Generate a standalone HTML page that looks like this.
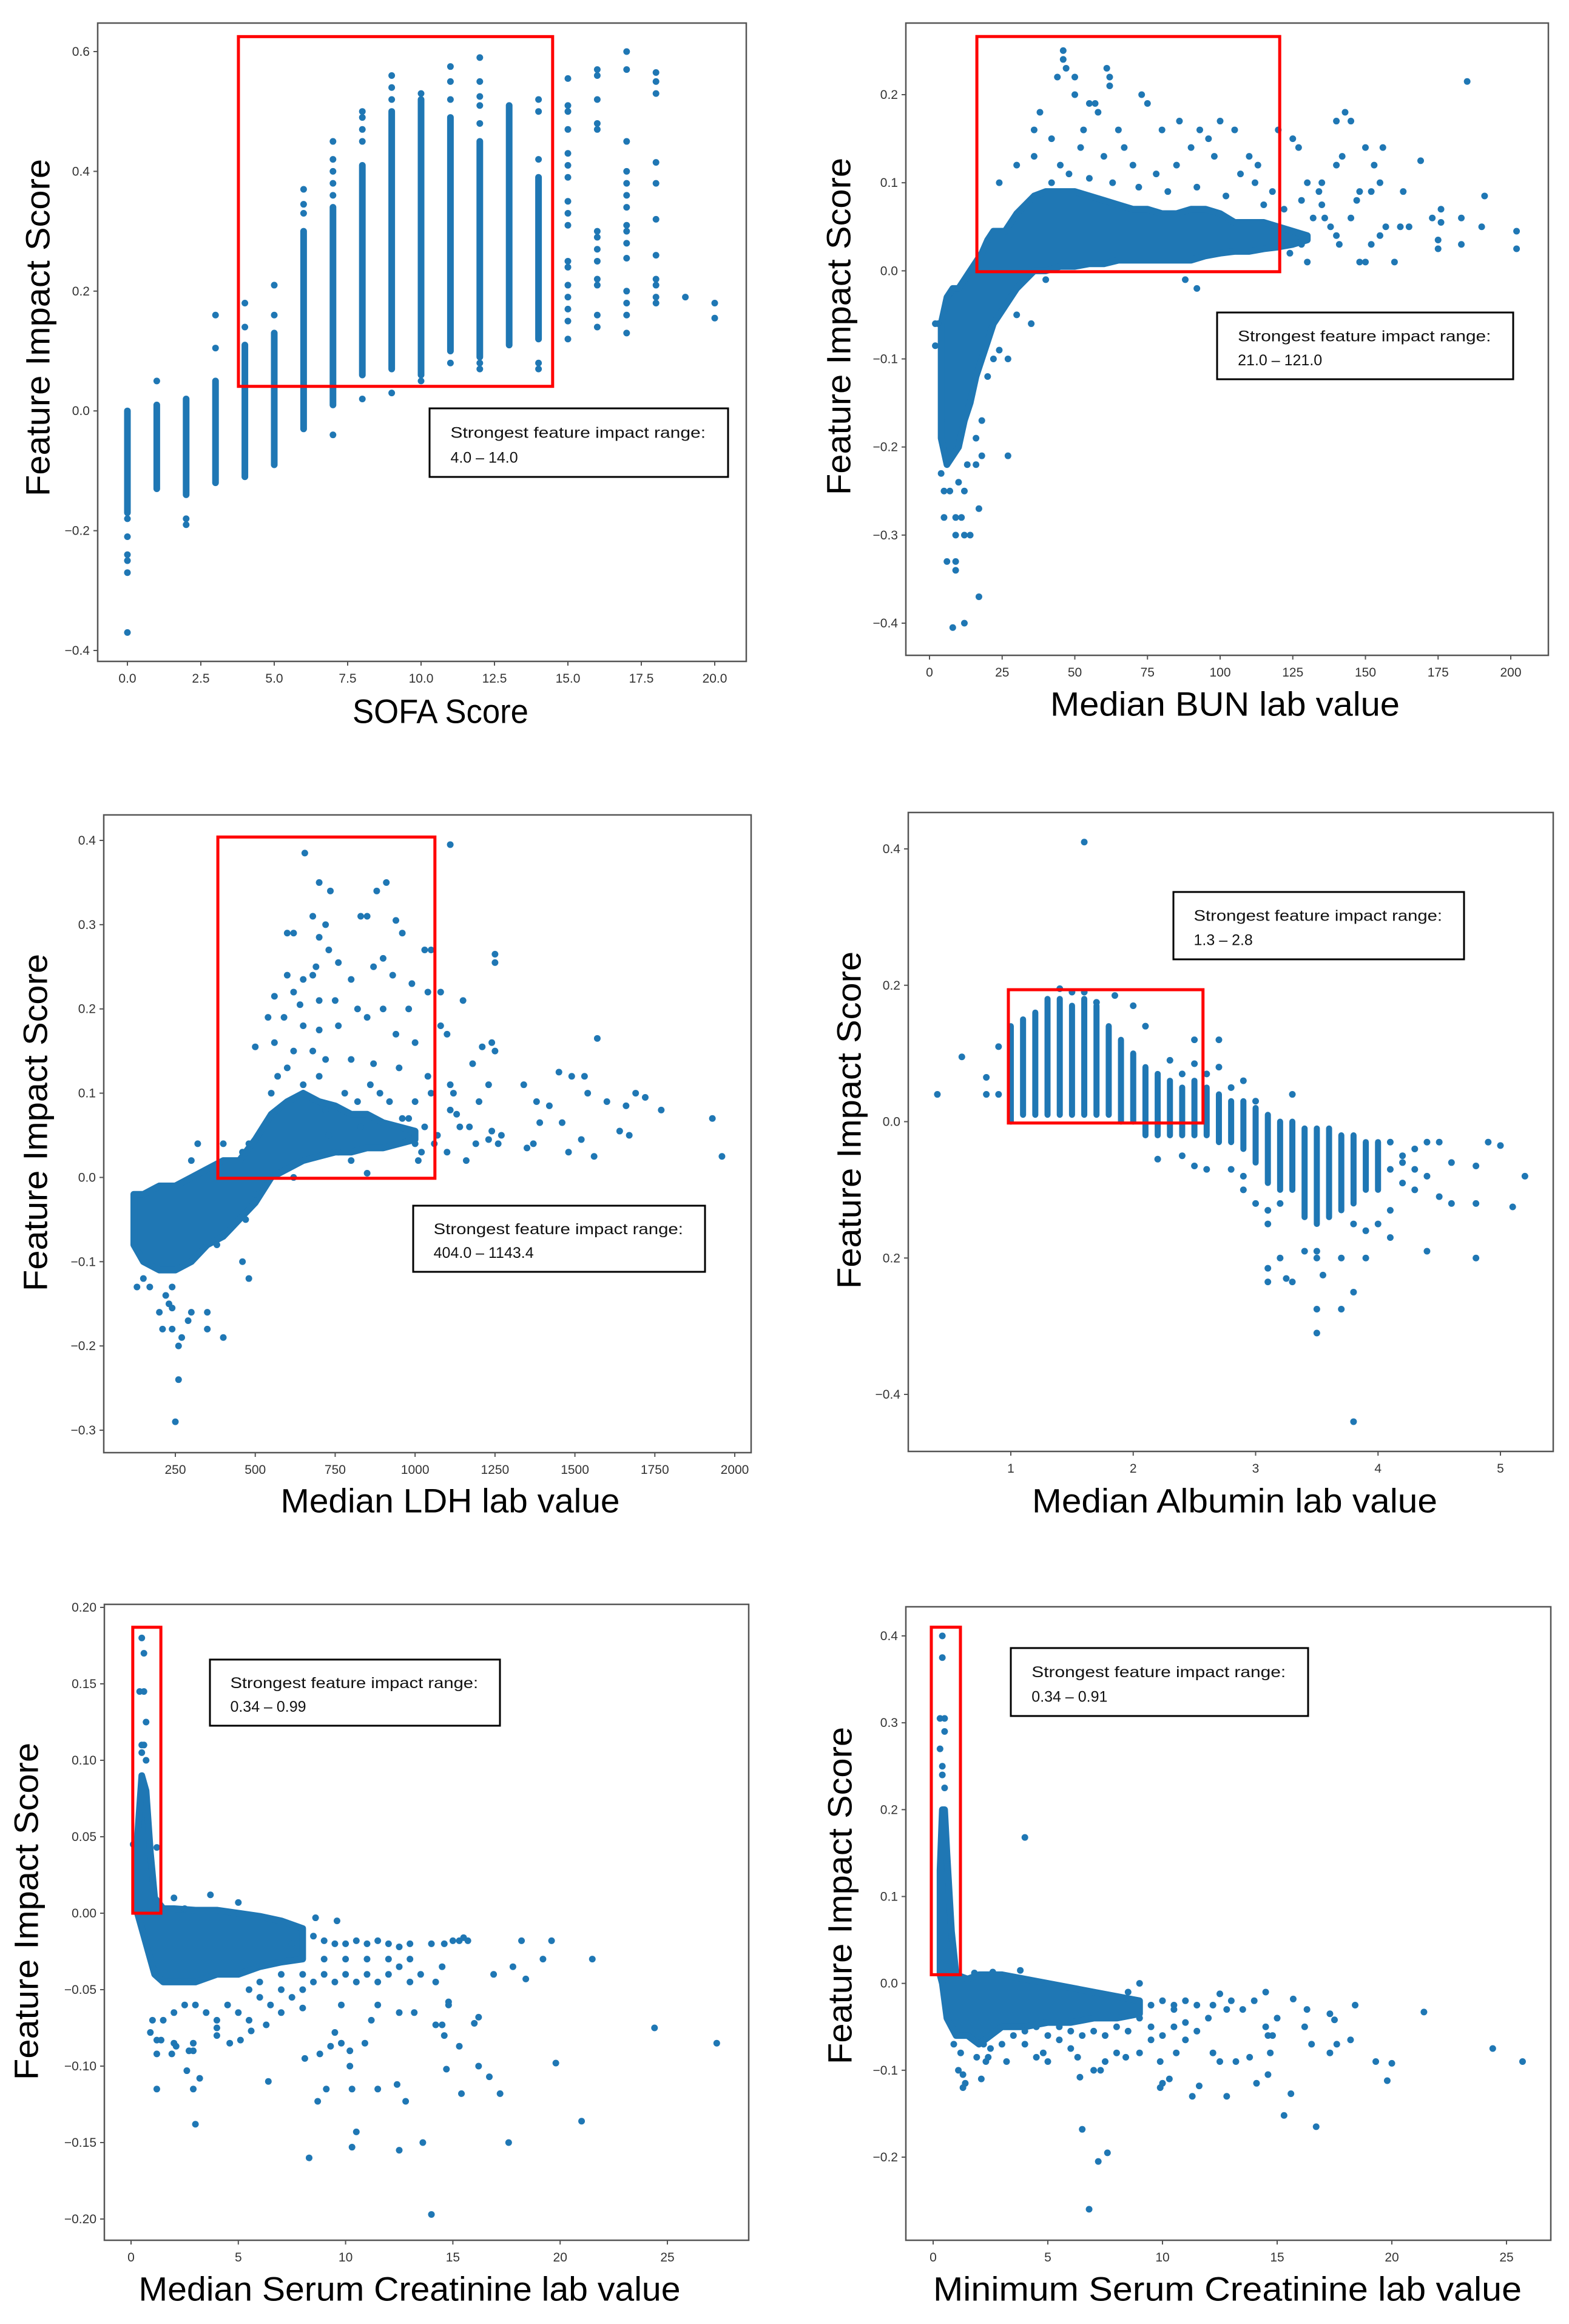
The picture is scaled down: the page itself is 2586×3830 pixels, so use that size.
<!DOCTYPE html>
<html><head><meta charset="utf-8"><style>
html,body{margin:0;padding:0;background:#fff}
svg{display:block}
text{font-family:"Liberation Sans",sans-serif}
</style></head><body>
<svg id="fig" xmlns="http://www.w3.org/2000/svg" width="2586" height="3830" viewBox="0 0 2586 3830">
<rect x="0" y="0" width="2586" height="3830" fill="#fff"/>
</svg>
<script>
// ---------- Chart 1: SOFA ----------
const sofaColX = [0,1,2,3,4,5,6,7,8,9,10,11,12,13,14];
const sofaColLo = [-0.17,-0.13,-0.14,-0.12,-0.11,-0.09,-0.03,0.01,0.06,0.07,0.06,0.10,0.09,0.11,0.12];
const sofaColHi = [0.0,0.01,0.02,0.05,0.11,0.13,0.30,0.34,0.41,0.50,0.52,0.49,0.45,0.51,0.39];
const sofaPoints = [[0,-0.18],[0,-0.21],[0,-0.24],[0,-0.25],[0,-0.27],[0,-0.37],[1,0.05],[2,-0.18],[2,-0.19],[3,0.105],[3,0.16],[4,0.14],[4,0.18],[5,0.16],[5,0.21],[6,0.33],[6,0.345],[6,0.37],[7,0.36],[7,0.38],[7,0.40],[7,0.42],[7,0.45],[7,-0.04],[8,0.45],[8,0.47],[8,0.49],[8,0.50],[8,0.02],[9,0.52],[9,0.54],[9,0.56],[9,0.03],[10,0.05],[10,0.53],[11,0.08],[11,0.52],[11,0.55],[11,0.575],[12,0.07],[12,0.08],[12,0.48],[12,0.51],[12,0.525],[12,0.55],[12,0.59],[14,0.08],[14,0.07],[14,0.42],[14,0.50],[14,0.52],[15,0.12],[15,0.15],[15,0.17],[15,0.19],[15,0.21],[15,0.24],[15,0.25],[15,0.31],[15,0.33],[15,0.35],[15,0.39],[15,0.41],[15,0.43],[15,0.47],[15,0.50],[15,0.51],[15,0.555],[16,0.14],[16,0.16],[16,0.21],[16,0.22],[16,0.25],[16,0.27],[16,0.29],[16,0.30],[16,0.47],[16,0.48],[16,0.52],[16,0.56],[16,0.57],[17,0.13],[17,0.16],[17,0.18],[17,0.20],[17,0.255],[17,0.28],[17,0.30],[17,0.31],[17,0.34],[17,0.36],[17,0.38],[17,0.40],[17,0.45],[17,0.57],[17,0.60],[18,0.18],[18,0.19],[18,0.21],[18,0.22],[18,0.26],[18,0.32],[18,0.38],[18,0.415],[18,0.53],[18,0.55],[18,0.565],[19,0.19],[20,0.155],[20,0.18]];
const sofaXTicks = [0,2.5,5,7.5,10,12.5,15,17.5,20];
const sofaXLabels = ["0.0","2.5","5.0","7.5","10.0","12.5","15.0","17.5","20.0"];
const sofaYTicks = [-0.4,-0.2,0,0.2,0.4,0.6];
const sofaYLabels = ["\u22120.4","\u22120.2","0.0","0.2","0.4","0.6"];

// ---------- Chart 2: BUN ----------
const bunEnvX = [4,6,8,10,12,14,16,18,20,22,24,26,28,30,33,36,40,45,50,55,60,65,70,75,80,85,90,95,100,105,110,115,120,125,130];
const bunEnvLo = [-0.19,-0.22,-0.21,-0.2,-0.17,-0.15,-0.12,-0.1,-0.08,-0.06,-0.05,-0.04,-0.03,-0.02,-0.01,0.0,0.0,0.005,0.005,0.008,0.008,0.012,0.012,0.012,0.012,0.012,0.012,0.017,0.02,0.022,0.022,0.025,0.027,0.03,0.035];
const bunEnvHi = [-0.06,-0.03,-0.02,-0.02,-0.01,0.0,0.01,0.02,0.035,0.045,0.045,0.045,0.055,0.065,0.075,0.085,0.09,0.09,0.09,0.085,0.08,0.075,0.07,0.07,0.065,0.065,0.07,0.07,0.065,0.055,0.055,0.055,0.05,0.045,0.04];
const bunPoints = [[46,0.25],[46,0.24],[47,0.23],[44,0.22],[50,0.22],[50,0.20],[61,0.23],[62,0.22],[62,0.21],[73,0.2],[75,0.19],[57,0.19],[55,0.19],[38,0.18],[42,0.15],[36,0.13],[36,0.16],[30,0.12],[24,0.10],[53,0.16],[58,0.18],[65,0.16],[80,0.16],[86,0.17],[93,0.16],[100,0.17],[105,0.16],[96,0.15],[90,0.14],[110,0.13],[113,0.12],[120,0.16],[125,0.15],[127,0.14],[130,0.10],[134,0.09],[135,0.10],[140,0.12],[142,0.13],[140,0.17],[143,0.18],[145,0.17],[148,0.09],[150,0.14],[152,0.09],[153,0.12],[155,0.1],[156,0.14],[155,0.04],[157,0.05],[160,0.01],[162,0.05],[163,0.09],[165,0.05],[169,0.125],[173,0.06],[175,0.025],[175,0.035],[176,0.055],[176,0.07],[183,0.03],[183,0.06],[185,0.215],[190,0.05],[191,0.085],[202,0.045],[202,0.025],[148,0.01],[141,0.03],[138,0.05],[136,0.06],[130,0.01],[124,0.02],[128,0.03],[132,0.06],[145,0.06],[147,0.08],[150,0.01],[152,0.03],[88,-0.01],[92,-0.02],[35,-0.06],[27,-0.1],[27,-0.21],[18,-0.21],[17,-0.27],[17,-0.37],[12,-0.4],[8,-0.405],[9,-0.34],[9,-0.33],[6,-0.33],[5,-0.28],[9,-0.28],[11,-0.28],[9,-0.3],[12,-0.3],[14,-0.3],[5,-0.25],[7,-0.25],[10,-0.24],[12,-0.25],[4,-0.23],[16,-0.22],[13,-0.22],[3,-0.06],[2,-0.06],[2,-0.085],[18,-0.17],[16,-0.19],[22,-0.1],[24,-0.09],[20,-0.12],[40,-0.01],[30,-0.05],[45,0.12],[67,0.14],[70,0.12],[78,0.11],[85,0.12],[118,0.09],[122,0.07],[128,0.08],[112,0.1],[107,0.11],[98,0.13],[60,0.13],[52,0.14],[42,0.1],[48,0.11],[55,0.105],[63,0.1],[72,0.095],[82,0.09],[92,0.095],[102,0.085],[115,0.075],[135,0.075],[140,0.04]];
const bunXTicks = [0,25,50,75,100,125,150,175,200];
const bunXLabels = ["0","25","50","75","100","125","150","175","200"];
const bunYTicks = [-0.4,-0.3,-0.2,-0.1,0,0.1,0.2];
const bunYLabels = ["\u22120.4","\u22120.3","\u22120.2","\u22120.1","0.0","0.1","0.2"];

// ---------- Chart 3: LDH ----------
const ldhEnvX = [120,150,200,250,300,350,400,450,500,550,600,650,700,750,800,850,900,950,1000];
const ldhEnvLo = [-0.08,-0.10,-0.11,-0.11,-0.10,-0.08,-0.07,-0.05,-0.03,0.0,0.01,0.02,0.025,0.03,0.03,0.035,0.035,0.04,0.045];
const ldhEnvHi = [-0.02,-0.02,-0.01,-0.01,0.0,0.01,0.02,0.02,0.045,0.075,0.09,0.1,0.09,0.085,0.075,0.075,0.065,0.06,0.055];
const ldhPoints = [[655,0.385],[1110,0.395],[700,0.35],[910,0.35],[735,0.34],[880,0.34],[680,0.31],[850,0.31],[830,0.31],[940,0.305],[720,0.30],[960,0.29],[600,0.29],[620,0.29],[700,0.285],[730,0.27],[1030,0.27],[1050,0.27],[1250,0.265],[1250,0.255],[900,0.26],[760,0.255],[870,0.25],[690,0.25],[600,0.24],[650,0.235],[680,0.24],[800,0.235],[930,0.24],[990,0.23],[1040,0.22],[1080,0.22],[1150,0.21],[620,0.22],[560,0.215],[640,0.205],[700,0.21],[750,0.21],[820,0.2],[900,0.2],[980,0.2],[540,0.19],[590,0.19],[650,0.18],[700,0.175],[760,0.18],[850,0.19],[940,0.17],[1000,0.16],[1080,0.18],[1100,0.17],[1240,0.16],[1250,0.15],[1210,0.155],[1570,0.165],[500,0.155],[560,0.16],[620,0.15],[680,0.15],[720,0.14],[800,0.14],[870,0.135],[950,0.13],[1040,0.12],[1110,0.11],[1120,0.10],[1180,0.135],[1230,0.11],[1340,0.11],[1450,0.125],[1490,0.12],[1530,0.12],[1540,0.1],[1600,0.09],[1660,0.085],[1690,0.1],[1720,0.095],[1770,0.08],[1930,0.07],[1960,0.025],[1640,0.055],[1670,0.05],[1560,0.025],[1520,0.045],[1480,0.03],[1460,0.065],[1420,0.085],[1390,0.065],[1380,0.09],[1370,0.04],[1350,0.035],[1270,0.05],[1260,0.04],[1240,0.055],[1230,0.045],[1200,0.09],[1190,0.04],[1170,0.06],[1160,0.02],[1140,0.06],[1130,0.075],[1110,0.08],[1100,0.03],[1070,0.05],[1060,0.04],[1020,0.03],[1010,0.02],[850,0.005],[960,0.07],[1000,0.09],[1050,0.1],[620,0.0],[500,-0.02],[470,-0.05],[460,-0.1],[480,-0.12],[400,-0.19],[380,-0.08],[350,-0.16],[350,-0.18],[300,-0.16],[290,-0.17],[270,-0.19],[260,-0.2],[260,-0.24],[250,-0.29],[240,-0.18],[240,-0.155],[230,-0.15],[200,-0.16],[210,-0.18],[170,-0.13],[130,-0.13],[150,-0.12],[220,-0.14],[240,-0.13],[480,0.04],[460,0.03],[400,0.04],[300,0.02],[320,0.04],[550,0.1],[570,0.12],[600,0.13],[650,0.11],[700,0.12],[720,0.08],[780,0.1],[820,0.09],[860,0.11],[890,0.1],[920,0.09],[980,0.07],[1000,0.04],[1030,0.06],[730,0.05],[760,0.03],[800,0.02],[830,0.06]];
const ldhXTicks = [250,500,750,1000,1250,1500,1750,2000];
const ldhXLabels = ["250","500","750","1000","1250","1500","1750","2000"];
const ldhYTicks = [-0.3,-0.2,-0.1,0,0.1,0.2,0.3,0.4];
const ldhYLabels = ["\u22120.3","\u22120.2","\u22120.1","0.0","0.1","0.2","0.3","0.4"];

// ---------- Chart 4: Albumin ----------
const albColX = [1.0,1.1,1.2,1.3,1.4,1.5,1.6,1.7,1.8,1.9,2.0,2.1,2.2,2.3,2.4,2.5,2.6,2.7,2.8,2.9,3.0,3.1,3.2,3.3,3.4,3.5,3.6,3.7,3.8,3.9,4.0];
const albColLo = [0.0,0.01,0.01,0.01,0.01,0.01,0.01,0.01,0.01,0.0,0.0,-0.02,-0.02,-0.02,-0.02,-0.02,-0.02,-0.03,-0.03,-0.04,-0.06,-0.09,-0.1,-0.1,-0.14,-0.15,-0.14,-0.13,-0.12,-0.1,-0.1];
const albColHi = [0.14,0.15,0.16,0.18,0.18,0.17,0.18,0.17,0.14,0.12,0.10,0.08,0.07,0.06,0.05,0.06,0.05,0.04,0.03,0.03,0.02,0.01,0.0,0.0,-0.01,-0.01,-0.01,-0.02,-0.02,-0.03,-0.03];
const albPoints = [[1.6,0.41],[0.4,0.04],[0.6,0.095],[0.8,0.04],[0.8,0.065],[0.9,0.04],[0.9,0.11],[1.4,0.195],[1.5,0.19],[1.6,0.19],[1.85,0.185],[1.7,0.175],[2.0,0.17],[2.1,0.14],[2.5,0.12],[2.7,0.12],[2.7,0.08],[2.9,0.06],[3.3,0.04],[2.2,-0.055],[2.4,-0.05],[2.5,-0.065],[2.6,-0.07],[2.8,-0.07],[2.9,-0.08],[2.9,-0.1],[3.0,-0.12],[3.1,-0.13],[3.1,-0.15],[3.2,-0.12],[3.1,-0.215],[3.1,-0.235],[3.2,-0.2],[3.25,-0.23],[3.3,-0.235],[3.4,-0.19],[3.5,-0.2],[3.5,-0.19],[3.5,-0.275],[3.5,-0.31],[3.55,-0.225],[3.7,-0.2],[3.7,-0.275],[3.8,-0.25],[3.8,-0.44],[3.9,-0.2],[3.8,-0.15],[3.9,-0.16],[4.0,-0.15],[4.1,-0.17],[4.1,-0.13],[4.2,-0.09],[4.3,-0.1],[4.4,-0.08],[4.4,-0.19],[4.1,-0.03],[4.2,-0.05],[4.3,-0.04],[4.4,-0.03],[4.5,-0.03],[4.5,-0.11],[4.6,-0.06],[4.6,-0.12],[4.8,-0.065],[4.8,-0.12],[4.8,-0.2],[4.9,-0.03],[5.0,-0.035],[5.1,-0.125],[5.2,-0.08],[4.2,-0.06],[4.3,-0.07],[4.1,-0.07],[3.0,0.03],[2.8,0.05],[2.6,0.07],[2.5,0.085],[2.3,0.09],[2.4,0.07]];
const albXTicks = [1,2,3,4,5];
const albXLabels = ["1","2","3","4","5"];
const albYTicks = [-0.4,-0.2,0,0.2,0.4];
const albYLabels = ["\u22120.4","0.2","0.0","0.2","0.4"];

// ---------- Chart 5: Median Serum Creatinine ----------
const medcEnvX = [0.3,0.5,0.7,0.9,1.1,1.5,2,3,4,5,6,7,8];
const medcEnvLo = [0.0,-0.01,-0.02,-0.03,-0.04,-0.045,-0.045,-0.045,-0.04,-0.04,-0.035,-0.032,-0.03];
const medcEnvHi = [0.05,0.09,0.08,0.04,0.01,0.003,0.003,0.002,0.002,0.0,-0.002,-0.005,-0.01];
const medcPoints = [[0.5,0.18],[0.6,0.17],[0.4,0.145],[0.6,0.145],[0.7,0.125],[0.6,0.11],[0.5,0.11],[0.7,0.1],[0.5,0.105],[0.1,0.045],[1.2,0.043],[2.0,0.01],[2.5,0.003],[3.7,0.012],[5.0,0.007],[8.6,-0.003],[9.6,-0.005],[9.0,-0.018],[10,-0.02],[10.5,-0.018],[11,-0.02],[11.5,-0.018],[12,-0.02],[12.5,-0.022],[13,-0.02],[14,-0.02],[14.6,-0.02],[15,-0.018],[15.3,-0.018],[15.5,-0.016],[15.7,-0.018],[18.2,-0.018],[19.6,-0.018],[19.2,-0.03],[21.5,-0.03],[17.8,-0.035],[18.4,-0.043],[16.9,-0.04],[14.5,-0.035],[14.2,-0.045],[13.5,-0.04],[13,-0.03],[12.5,-0.035],[12,-0.04],[11.5,-0.045],[11,-0.04],[10.5,-0.045],[10,-0.03],[9.5,-0.045],[9,-0.04],[8.5,-0.045],[8,-0.05],[7.5,-0.055],[7,-0.05],[6.5,-0.06],[6,-0.055],[5.5,-0.05],[5,-0.065],[4.5,-0.06],[4,-0.07],[3.5,-0.065],[3,-0.06],[2.5,-0.06],[2,-0.065],[1.5,-0.07],[1.0,-0.07],[0.9,-0.078],[1.2,-0.083],[1.4,-0.083],[1.2,-0.092],[1.9,-0.092],[2.0,-0.085],[2.1,-0.087],[2.7,-0.09],[2.9,-0.09],[2.9,-0.085],[1.2,-0.115],[2.6,-0.103],[2.9,-0.115],[3.2,-0.108],[3.0,-0.138],[4.0,-0.08],[4.0,-0.075],[4.6,-0.085],[5.1,-0.083],[5.6,-0.077],[6.3,-0.073],[6.4,-0.11],[8.1,-0.095],[8.3,-0.16],[8.7,-0.123],[8.8,-0.092],[9.1,-0.115],[9.3,-0.087],[9.5,-0.078],[9.8,-0.085],[10.2,-0.09],[10.2,-0.1],[10.3,-0.115],[10.3,-0.153],[10.5,-0.143],[10.9,-0.085],[11.5,-0.115],[11.2,-0.07],[12.4,-0.112],[12.5,-0.155],[12.8,-0.123],[13.6,-0.15],[14.0,-0.197],[14.2,-0.073],[14.5,-0.073],[14.6,-0.08],[14.7,-0.102],[15.4,-0.118],[15.3,-0.087],[14.8,-0.058],[14.8,-0.06],[16.2,-0.068],[16,-0.072],[16.2,-0.1],[16.7,-0.107],[17.2,-0.118],[17.6,-0.15],[19.8,-0.098],[21.0,-0.136],[24.4,-0.075],[27.3,-0.085],[5.5,-0.07],[7,-0.065],[8,-0.062],[9.8,-0.06],[11.5,-0.06],[12.5,-0.065],[13.2,-0.065],[6,-0.045],[7,-0.04],[8,-0.04],[9,-0.03],[10,-0.04],[11,-0.03],[12,-0.03],[13,-0.045],[7.5,-0.02],[8.5,-0.015],[9.5,-0.02]];
const medcXTicks = [0,5,10,15,20,25];
const medcXLabels = ["0","5","10","15","20","25"];
const medcYTicks = [-0.2,-0.15,-0.1,-0.05,0,0.05,0.1,0.15,0.2];
const medcYLabels = ["\u22120.20","\u22120.15","\u22120.10","\u22120.05","0.00","0.05","0.10","0.15","0.20"];

// ---------- Chart 6: Minimum Serum Creatinine ----------
const mincEnvX = [0.3,0.4,0.5,0.6,0.8,1.0,1.5,2,3,4,5,6,7,8,9];
const mincEnvLo = [0.01,0.0,-0.02,-0.04,-0.05,-0.06,-0.06,-0.07,-0.05,-0.05,-0.045,-0.045,-0.04,-0.04,-0.035];
const mincEnvHi = [0.13,0.2,0.2,0.15,0.06,0.01,0.005,0.01,0.01,0.005,0.0,-0.005,-0.01,-0.015,-0.02];
const mincPoints = [[0.4,0.4],[0.4,0.375],[0.3,0.305],[0.5,0.305],[0.5,0.29],[0.3,0.27],[0.4,0.25],[0.4,0.24],[0.5,0.225],[4.0,0.168],[3.8,0.015],[2.6,0.013],[1.8,0.012],[0.9,-0.07],[1.2,-0.08],[1.1,-0.1],[1.3,-0.105],[1.3,-0.12],[1.4,-0.115],[2.1,-0.11],[1.9,-0.085],[2.3,-0.09],[2.4,-0.085],[3,-0.07],[3.2,-0.09],[4,-0.07],[4.5,-0.085],[4.8,-0.08],[5,-0.09],[5.5,-0.065],[6.0,-0.075],[6.3,-0.085],[6.4,-0.108],[6.5,-0.168],[6.8,-0.26],[7.2,-0.205],[7.6,-0.195],[7.3,-0.1],[7.0,-0.1],[7.5,-0.09],[8,-0.08],[8.4,-0.085],[9,-0.08],[9.5,-0.065],[9.9,-0.09],[9.9,-0.12],[10.0,-0.115],[10.3,-0.11],[10.6,-0.08],[11,-0.065],[11.3,-0.13],[11.6,-0.118],[12.2,-0.08],[12.5,-0.09],[12.8,-0.13],[13.2,-0.09],[13.8,-0.085],[14.1,-0.115],[14.6,-0.105],[14.7,-0.08],[15.3,-0.152],[15.6,-0.127],[16.7,-0.165],[16.5,-0.07],[17.3,-0.08],[17.6,-0.07],[18.2,-0.065],[19.3,-0.09],[19.8,-0.112],[20,-0.092],[21.4,-0.033],[24.4,-0.075],[25.7,-0.09],[18.4,-0.025],[17.3,-0.035],[17.5,-0.042],[16.3,-0.03],[16.2,-0.05],[15.7,-0.018],[15,-0.04],[14.5,-0.01],[14.5,-0.05],[14.6,-0.06],[14.8,-0.06],[14,-0.02],[13.5,-0.03],[13,-0.02],[12.8,-0.03],[12.5,-0.012],[12,-0.04],[11.5,-0.025],[11,-0.02],[11.5,-0.055],[11,-0.045],[10.5,-0.03],[10,-0.02],[10.5,-0.05],[10,-0.06],[9.5,-0.05],[9,-0.04],[8.5,-0.055],[8,-0.05],[7.5,-0.06],[7,-0.055],[6.5,-0.06],[6,-0.055],[5.5,-0.05],[5,-0.06],[4.5,-0.05],[4,-0.055],[3.5,-0.06],[2.2,-0.07],[2.5,-0.075],[9,0.0],[8.5,-0.01],[9.5,-0.025],[10.5,-0.025],[12.2,-0.025]];
const mincXTicks = [0,5,10,15,20,25];
const mincXLabels = ["0","5","10","15","20","25"];
const mincYTicks = [-0.2,-0.1,0,0.1,0.2,0.3,0.4];
const mincYLabels = ["\u22120.2","\u22120.1","0.0","0.1","0.2","0.3","0.4"];

const NS = "http://www.w3.org/2000/svg";
const BLUE = "#1f77b4";
const svg = document.getElementById('fig');
function mk(tag, attrs, parent) {
  const e = document.createElementNS(NS, tag);
  for (const k in attrs) e.setAttribute(k, attrs[k]);
  (parent || svg).appendChild(e);
  return e;
}

function drawChart(c) {
  const g = mk('g', {});
  
  
  const sx = v => c.px0 + (v - c.x0) * (c.px1 - c.px0) / (c.x1 - c.x0);
  const sy = v => c.py0 + (v - c.y0) * (c.py1 - c.py0) / (c.y1 - c.y0);
  const fr = mk('rect', {x: c.L, y: c.T, width: c.R - c.L, height: c.B - c.T, fill: 'none', stroke: '#555', 'stroke-width': 2.5}, g);
  
  
  const marks = mk('g', {fill: BLUE}, g);
  
  
  if (c.colX) {
    for (let i = 0; i < c.colX.length; i++) {
      const ln = mk('line', {x1: sx(c.colX[i]), x2: sx(c.colX[i]), y1: sy(c.colLo[i]), y2: sy(c.colHi[i]), stroke: BLUE, 'stroke-width': c.colW, 'stroke-linecap': 'round'}, marks);
      
      
    }
  }
  if (c.envX) {
    let pts = [];
    for (let i = 0; i < c.envX.length; i++) pts.push(sx(c.envX[i]) + ',' + sy(c.envHi[i]));
    for (let i = c.envX.length - 1; i >= 0; i--) pts.push(sx(c.envX[i]) + ',' + sy(c.envLo[i]));
    const pg = mk('polygon', {points: pts.join(' '), fill: BLUE, stroke: BLUE, 'stroke-width': 11, 'stroke-linejoin': 'round'}, marks);
    
    
  }
  for (const p of c.points) {
    const d = mk('circle', {cx: sx(p[0]), cy: sy(p[1]), r: 5.5}, marks);
    
    
  }
  for (let i = 0; i < c.xt.length; i++) {
    const x = sx(c.xt[i]);
    mk('line', {x1: x, x2: x, y1: c.B, y2: c.B + 7, stroke: '#555', 'stroke-width': 2}, g);
    const t = mk('text', {x: x, y: c.B + 35, 'text-anchor': 'middle', 'font-size': 21, fill: '#333'}, g);
    t.textContent = c.xl[i];
    
    
  }
  for (let i = 0; i < c.yt.length; i++) {
    const y = sy(c.yt[i]);
    mk('line', {x1: c.L - 7, x2: c.L, y1: y, y2: y, stroke: '#555', 'stroke-width': 2}, g);
    const t = mk('text', {x: c.L - 13, y: y + 7, 'text-anchor': 'end', 'font-size': 21, fill: '#333'}, g);
    t.textContent = c.yl[i];
    
    
  }
  const rb = mk('rect', {x: sx(c.red[0]), y: sy(c.red[3]), width: sx(c.red[1]) - sx(c.red[0]), height: sy(c.red[2]) - sy(c.red[3]), fill: 'none', stroke: '#ff0000', 'stroke-width': 5}, g);
  
  
  const a = c.ann;
  const ag = mk('g', {}, g);
  
  
  mk('rect', {x: a[0], y: a[1], width: a[2], height: a[3], fill: '#fff', stroke: '#000', 'stroke-width': 3}, ag);
  const t1 = mk('text', {x: a[0] + a[2] * 0.07, y: a[1] + a[3] * 0.43, 'font-size': 25, fill: '#111', textLength: a[2] * 0.855, lengthAdjust: 'spacingAndGlyphs'}, ag);
  t1.textContent = 'Strongest feature impact range:';
  const t2 = mk('text', {x: a[0] + a[2] * 0.07, y: a[1] + a[3] * 0.79, 'font-size': 25, fill: '#111'}, ag);
  t2.textContent = c.range;
  const yl = mk('text', {x: 0, y: 0, 'text-anchor': 'middle', 'dominant-baseline': 'central', 'font-size': 56, fill: '#000', textLength: 556, lengthAdjust: 'spacingAndGlyphs', transform: 'translate(' + c.ylab[0] + ',' + c.ylab[1] + ') rotate(-90)'}, g);
  yl.textContent = 'Feature Impact Score';
  
  
  const xl = mk('text', {x: c.xlab[0], y: c.xlab[1], 'text-anchor': 'middle', 'dominant-baseline': 'central', 'font-size': 56, fill: '#000', textLength: c.xlab[2], lengthAdjust: 'spacingAndGlyphs'}, g);
  xl.textContent = c.xtitle;
  
  
}

drawChart({name: 'sofa', L: 161, R: 1230, T: 38, B: 1090, x0: 0, x1: 20, px0: 210, px1: 1178, y0: 0.6, y1: -0.4, py0: 85, py1: 1072,
  colX: sofaColX, colLo: sofaColLo, colHi: sofaColHi, colW: 11, points: sofaPoints,
  xt: sofaXTicks, xl: sofaXLabels, yt: sofaYTicks, yl: sofaYLabels,
  red: [3.78, 14.48, 0.041, 0.625], ann: [708, 673, 492, 113], range: '4.0 \u2013 14.0',
  ylab: [62, 540], xlab: [726, 1172, 290], xtitle: 'SOFA Score'});
drawChart({name: 'bun', L: 1493, R: 2552, T: 38, B: 1080, x0: 0, x1: 200, px0: 1532, px1: 2490, y0: 0.2, y1: -0.4, py0: 156, py1: 1027,
  envX: bunEnvX, envLo: bunEnvLo, envHi: bunEnvHi, points: bunPoints,
  xt: bunXTicks, xl: bunXLabels, yt: bunYTicks, yl: bunYLabels,
  red: [16.3, 120.5, -0.001, 0.266], ann: [2006, 515, 488, 110], range: '21.0 \u2013 121.0',
  ylab: [1382, 538], xlab: [2019, 1160, 576], xtitle: 'Median BUN lab value'});
drawChart({name: 'ldh', L: 171, R: 1238, T: 1343, B: 2394, x0: 250, x1: 2000, px0: 289, px1: 1211, y0: 0.4, y1: -0.3, py0: 1385, py1: 2357,
  envX: ldhEnvX, envLo: ldhEnvLo, envHi: ldhEnvHi, points: ldhPoints,
  xt: ldhXTicks, xl: ldhXLabels, yt: ldhYTicks, yl: ldhYLabels,
  red: [383, 1062, -0.001, 0.404], ann: [681, 1987, 481, 109], range: '404.0 \u2013 1143.4',
  ylab: [58, 1850], xlab: [742, 2473, 559], xtitle: 'Median LDH lab value'});
drawChart({name: 'albumin', L: 1497, R: 2560, T: 1339, B: 2392, x0: 1, x1: 5, px0: 1666, px1: 2473, y0: 0.4, y1: -0.4, py0: 1399, py1: 2298,
  colX: albColX, colLo: albColLo, colHi: albColHi, colW: 10, points: albPoints,
  xt: albXTicks, xl: albXLabels, yt: albYTicks, yl: albYLabels,
  red: [0.98, 2.57, -0.002, 0.1935], ann: [1934, 1470, 479, 111], range: '1.3 \u2013 2.8',
  ylab: [1399, 1846], xlab: [2035, 2473, 668], xtitle: 'Median Albumin lab value'});
drawChart({name: 'median-creatinine', L: 172, R: 1234, T: 2644, B: 3692, x0: 0, x1: 25, px0: 216, px1: 1100, y0: 0.2, y1: -0.2, py0: 2649, py1: 3657,
  envX: medcEnvX, envLo: medcEnvLo, envHi: medcEnvHi, points: medcPoints,
  xt: medcXTicks, xl: medcXLabels, yt: medcYTicks, yl: medcYLabels,
  red: [0.08, 1.39, 0.0, 0.187], ann: [346, 2735, 478, 109], range: '0.34 \u2013 0.99',
  ylab: [43, 3150], xlab: [675, 3772, 893], xtitle: 'Median Serum Creatinine lab value'});
drawChart({name: 'minimum-creatinine', L: 1493, R: 2556, T: 2648, B: 3692, x0: 0, x1: 25, px0: 1538, px1: 2483, y0: 0.4, y1: -0.2, py0: 2696, py1: 3555,
  envX: mincEnvX, envLo: mincEnvLo, envHi: mincEnvHi, points: mincPoints,
  xt: mincXTicks, xl: mincXLabels, yt: mincYTicks, yl: mincYLabels,
  red: [-0.08, 1.19, 0.01, 0.41], ann: [1666, 2716, 490, 112], range: '0.34 \u2013 0.91',
  ylab: [1384, 3124], xlab: [2023, 3772, 970], xtitle: 'Minimum Serum Creatinine lab value'});
</script>
</body></html>
